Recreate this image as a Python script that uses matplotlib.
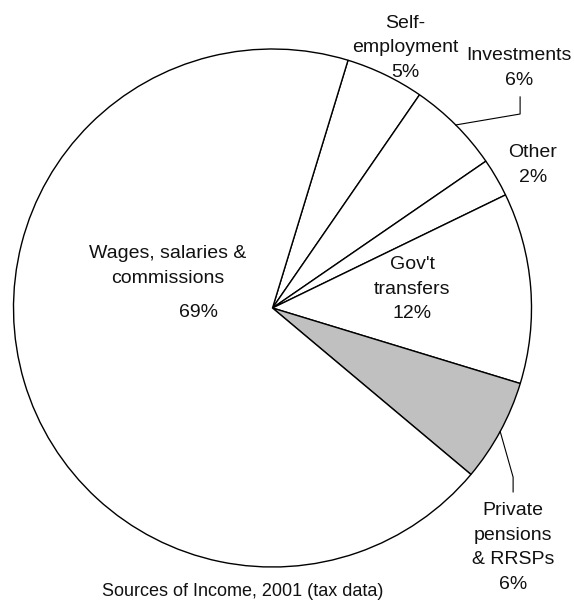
import numpy as np
import matplotlib
matplotlib.use("Agg")
import matplotlib.pyplot as plt

plt.rcParams['font.family'] = ['Liberation Sans', 'DejaVu Sans']

# data (clockwise from the top)
categories = ["Self-\nemployment", "Investments", "Other", "Gov't\ntransfers",
              "Private\npensions\n& RRSPs", "Wages, salaries &\ncommissions"]
shares = [4.9, 5.8, 2.4, 11.9, 6.4, 68.6]
pct_labels = ["5%", "6%", "2%", "12%", "6%", "69%"]
fills = ["white", "white", "white", "white", "#c0c0c0", "white"]

W, H = 574, 600
fig = plt.figure(figsize=(W / 100, H / 100), dpi=100)
cx, cy, r = 272.5, 308, 259
ax = fig.add_axes([(cx - r) / W, (H - cy - r) / H, 2 * r / W, 2 * r / H])

wedges, _ = ax.pie(shares, colors=fills, startangle=73.05, counterclock=False,
                   wedgeprops=dict(edgecolor="black", linewidth=1.0))
ax.set_xlim(-1, 1)
ax.set_ylim(-1, 1)
ax.set_aspect("equal")
ax.axis("off")

fs = 14
txt = dict(ha="center", va="center", fontsize=fs, linespacing=1.58, color="#111111")

# label positions (axes data units)
pos = {
    0: (0.512, 1.004),
    1: (0.952, 0.927),
    2: (1.006, 0.552),
    3: (0.539, 0.073),
    4: (0.929, -0.925),
}
for i, (x, y) in pos.items():
    ax.text(x, y, categories[i] + "\n" + pct_labels[i], **txt)

# wages label, percent set a bit apart
ax.text(-0.403, 0.162, categories[5], **txt)
ax.text(-0.284, -0.019, pct_labels[5], **txt)

# leader lines from wedge rim
def rim(w):
    a = np.deg2rad((w.theta1 + w.theta2) / 2)
    return np.cos(a), np.sin(a)

x0, y0 = rim(wedges[1])
ax.plot([x0, 0.956, 0.956], [y0, 0.749, 0.815], color="black", lw=0.8, clip_on=False)
x0, y0 = rim(wedges[4])
ax.plot([x0, 0.929, 0.929], [y0, -0.653, -0.710], color="black", lw=0.8, clip_on=False)

fig.text(243 / W, 1 - 591 / H, "Sources of Income, 2001 (tax data)",
         ha="center", va="center", fontsize=13, color="#111111")

fig.savefig("out.png", dpi=100)
